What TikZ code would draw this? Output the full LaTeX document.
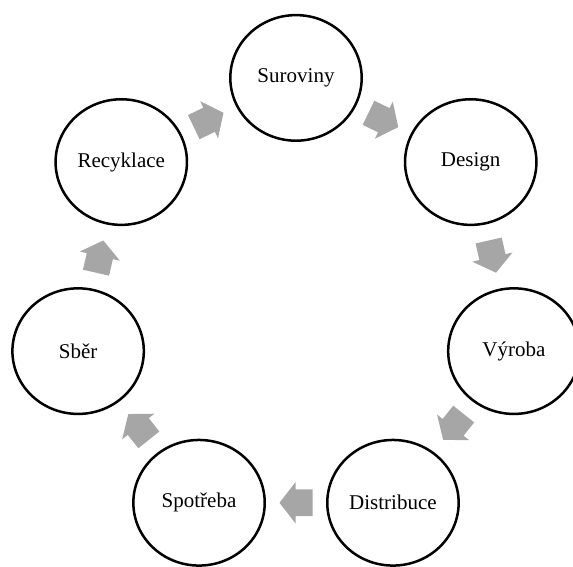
\documentclass[tikz,border=0pt]{standalone}
\usepackage{fontspec}
\setmainfont{Liberation Serif}
\usetikzlibrary{calc,shapes.geometric}
\definecolor{flowgray}{RGB}{166,166,166}
\begin{document}
\begin{tikzpicture}[x=1pt,y=1pt,
  stage/.style={draw=black, line width=2.5pt, fill=white, ellipse,
    minimum width=131.4pt, minimum height=125.6pt, inner sep=0pt,
    font=\fontsize{21}{25}\selectfont},
  flow/.style={fill=flowgray, draw=none}]
\useasboundingbox (0,0) rectangle (573,-566);
% centre of the cycle
\coordinate (o) at (296,-301.4);
% the seven stages, clockwise from the top
\foreach \name/\txt [count=\i from 0] in
  {n0/Suroviny, n1/Design, n2/Výroba, n3/Distribuce, n4/Spotřeba, n5/Sběr, n6/Recyklace}
  \node[stage] (\name) at ($(o)+({90-\i*360/7}:223.5)$) {\txt};
% block arrows halfway between neighbouring stages
\foreach \a/\b in {n0/n1, n1/n2, n2/n3, n3/n4, n4/n5, n5/n6, n6/n0}
  \fill[flow] let \p1=($(\b)-(\a)$), \n1={atan2(\y1,\x1)},
                  \p2=($(\a)!0.5!(\b)$) in
    ($(\p2)+(\n1:16.5)$)
    -- ($(\p2)+(\n1:0.5)+({\n1+90}:20.6)$)
    -- ($(\p2)+(\n1:0.5)+({\n1+90}:13.4)$)
    -- ($(\p2)+({\n1+180}:16.5)+({\n1+90}:13.4)$)
    -- ($(\p2)+({\n1+180}:16.5)+({\n1-90}:13.4)$)
    -- ($(\p2)+(\n1:0.5)+({\n1-90}:13.4)$)
    -- ($(\p2)+(\n1:0.5)+({\n1-90}:20.6)$)
    -- cycle;
\end{tikzpicture}
\end{document}
